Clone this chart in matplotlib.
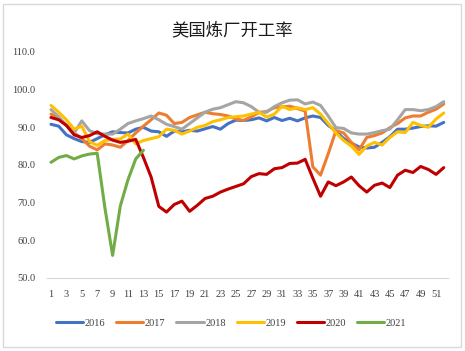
# 美国炼厂开工率 周度对比

import matplotlib
matplotlib.use("Agg")
import matplotlib.pyplot as plt
from matplotlib.patches import Rectangle

weeks = list(range(1, 53))

y2016 = [90.8, 90.3, 88.0, 87.0, 86.2, 86.0, 87.0, 88.0, 88.8, 88.6, 88.5, 89.5, 90.0,
         89.0, 88.8, 87.6, 89.0, 88.8, 89.2, 89.0, 89.6, 90.2, 89.5, 91.0, 91.9, 91.8,
         92.0, 92.5, 91.7, 92.6, 91.8, 92.4, 91.7, 92.5, 93.0, 92.6, 90.5, 89.0, 87.0,
         85.8, 84.8, 84.5, 84.7, 86.0, 87.5, 89.5, 89.5, 89.8, 90.2, 90.4, 90.3, 91.3]
y2017 = [93.5, 92.5, 90.5, 88.5, 87.0, 85.0, 84.0, 85.6, 85.3, 84.7, 86.5, 88.5, 90.3,
         92.0, 93.8, 93.2, 91.0, 91.3, 92.6, 93.3, 94.0, 93.6, 93.4, 93.0, 92.2, 91.8,
         92.8, 93.9, 94.2, 95.2, 95.4, 95.6, 95.0, 94.3, 79.5, 77.3, 83.0, 89.1, 88.5,
         86.0, 84.0, 87.3, 87.8, 88.5, 89.9, 91.0, 92.5, 93.0, 93.0, 94.0, 94.8, 96.2]
y2018 = [94.7, 92.8, 90.5, 88.5, 91.7, 89.1, 88.3, 88.2, 88.2, 89.5, 91.0, 91.7, 92.3,
         93.0, 92.0, 90.8, 90.2, 89.5, 91.0, 92.5, 94.0, 94.8, 95.2, 96.0, 96.8, 96.5,
         95.5, 94.0, 94.0, 95.5, 96.5, 97.2, 97.3, 96.2, 96.7, 95.8, 93.0, 89.9, 89.7,
         88.5, 88.2, 88.2, 88.6, 89.1, 89.5, 92.0, 94.7, 94.7, 94.4, 94.7, 95.5, 96.8]
y2019 = [95.8, 94.0, 92.0, 89.5, 90.3, 86.2, 85.2, 86.5, 86.8, 86.9, 88.2, 85.6, 86.5,
         87.0, 87.5, 89.5, 89.2, 88.2, 89.0, 90.0, 90.5, 91.5, 92.0, 92.6, 92.8, 93.0,
         93.5, 94.0, 92.7, 93.5, 95.6, 94.7, 95.2, 94.7, 95.2, 93.5, 91.0, 88.5, 86.5,
         85.0, 82.8, 85.0, 86.0, 85.3, 87.3, 88.8, 88.6, 91.3, 90.5, 90.0, 92.2, 93.8]
y2020 = [92.6, 92.0, 90.5, 88.0, 87.3, 87.8, 88.8, 87.6, 86.6, 86.0, 86.3, 86.8, 82.0,
         76.8, 69.0, 67.5, 69.5, 70.4, 67.7, 69.3, 71.1, 71.7, 72.8, 73.6, 74.3, 75.0,
         76.9, 77.7, 77.5, 79.0, 79.3, 80.4, 80.5, 81.5, 76.5, 71.7, 75.5, 74.5, 75.5,
         76.8, 74.5, 72.8, 74.6, 75.2, 74.0, 77.3, 78.6, 78.0, 79.6, 78.8, 77.5, 79.3]
y2021 = [80.7, 82.0, 82.5, 81.6, 82.4, 82.9, 83.1, 68.6, 56.0, 69.1, 76.1, 81.6, 83.9]

series = [("2016", y2016, "#4472C4"), ("2017", y2017, "#ED7D31"),
          ("2018", y2018, "#A5A5A5"), ("2019", y2019, "#FFC000"),
          ("2020", y2020, "#C00000"), ("2021", y2021, "#70AD47")]


def main():
    fig = plt.figure(figsize=(4.65, 3.51), dpi=100)
    fig.patches.append(Rectangle((3 / 465, 4 / 351), 458 / 465, 343 / 351,
                                 transform=fig.transFigure, fill=False,
                                 edgecolor="#d9d9d9", linewidth=1))
    ax = fig.add_axes([0.1014, 0.208, 0.8612, 0.644])

    for name, vals, c in series:
        ax.plot(weeks[:len(vals)], vals, color=c, linewidth=2.2, label=name,
                solid_joinstyle="round", solid_capstyle="round")

    ax.set_xlim(0.5, 52.5)
    ax.set_ylim(50, 110)
    ax.set_yticks(range(50, 111, 10))
    ax.set_yticklabels(["%.1f" % v for v in range(50, 111, 10)])
    ax.set_xticks(range(1, 52, 2))
    ax.tick_params(length=0, labelsize=7.5, labelcolor="#404040")
    ax.tick_params(axis="y", pad=8.5)
    ax.tick_params(axis="x", pad=9)
    for t in ax.get_xticklabels() + ax.get_yticklabels():
        t.set_fontfamily("Liberation Serif")
    for s in ["top", "right", "left"]:
        ax.spines[s].set_visible(False)
    ax.spines["bottom"].set_color("#d9d9d9")

    fig.text(0.499, 0.9145, "美国炼厂开工率", ha="center", va="center",
             fontsize=12.5, family=["Noto Sans CJK SC", "DejaVu Sans"], color="#1a1a1a")

    fig.legend(loc="center", bbox_to_anchor=(0.497, 0.08), ncol=6, frameon=False,
               prop={"family": "Liberation Serif", "size": 7.5},
               handlelength=2.6, handletextpad=0.15, columnspacing=1.05,
               labelcolor="#404040")

    plt.savefig("out.png", dpi=100)


if __name__ == '__main__':
    main()
